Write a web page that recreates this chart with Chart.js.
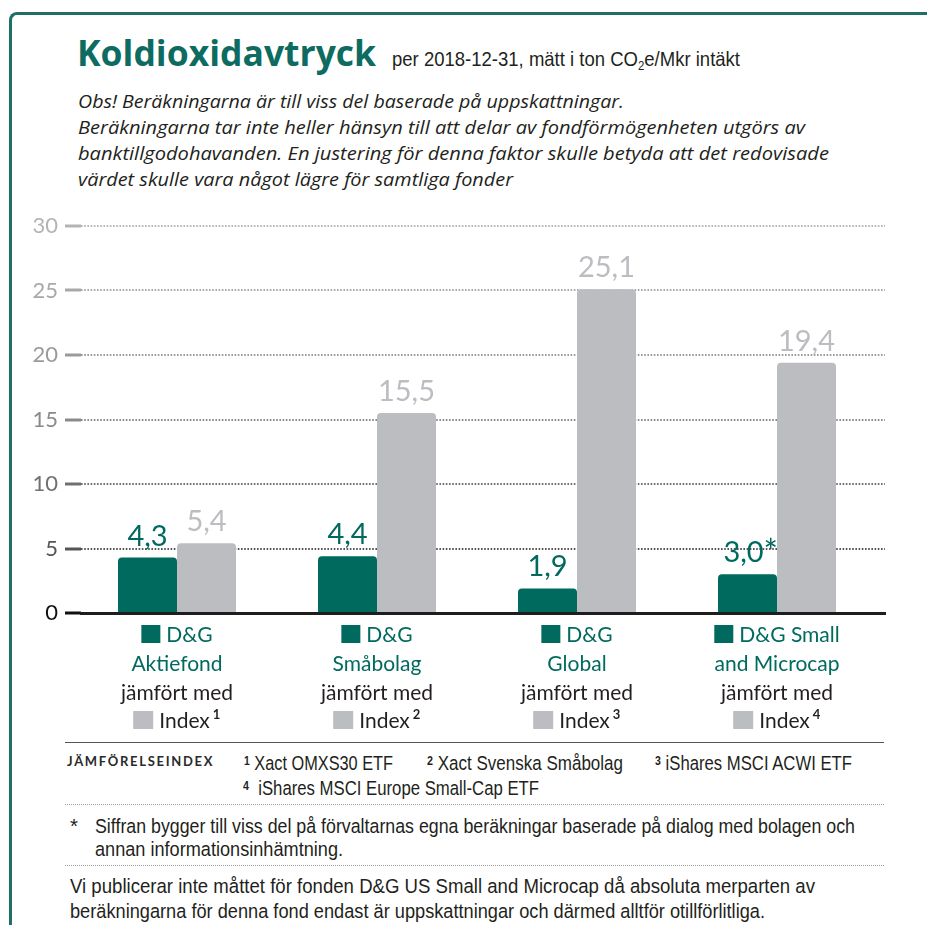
<!DOCTYPE html>
<html lang="sv">
<head>
<meta charset="UTF-8" />
<title>Koldioxidavtryck</title>
<script src="https://cdn.jsdelivr.net/npm/chart.js"></script>
<style>
  body { margin: 0; background: #fff; }
  #page { position: relative; width: 927px; height: 925px; overflow: hidden; color: #231f20; }
  #frame { position: absolute; left: 9px; top: 12px; width: 960px; height: 960px;
    border-left: 3px solid #1f6f67; border-top: 3px solid #1f6f67; border-top-left-radius: 8px; }
  .t { position: absolute; white-space: nowrap; transform-origin: 0 50%; }
  .cond { font-family: "Liberation Sans", Arial, sans-serif; }
  #title { left: 77px; top: 29px; font: 700 35.5px "Open Sans", sans-serif; color: #0d6b61; line-height: 46px; }
  #sub { left: 392px; top: 46px; font-size: 21px; line-height: 26px; }
  #sub sub { font-size: 13px; vertical-align: -4px; }
  .obs { left: 78px; font: italic 18px "Open Sans", sans-serif; line-height: 26px; }
  #chartbox { position: absolute; left: 0; top: 190px; }
  .rule { position: absolute; left: 65px; width: 819px; }
  .fn { font-size: 20.5px; line-height: 24px; }
  #jfi { left: 67px; top: 751px; font: 700 13px "Lato", sans-serif; letter-spacing: 1.7px; line-height: 20px; color: #2a2a2a; }
  .sup { font-size: 13px; font-weight: 700; vertical-align: 5px; }
</style>
</head>
<body>
<div id="page">
  <div id="frame"></div>
  <div class="t" id="title">Koldioxidavtryck</div>
  <div class="t cond" id="sub" data-w="348">per 2018-12-31, mätt i ton CO<sub>2</sub>e/Mkr intäkt</div>
  <div class="t obs" style="top:88px" data-w="546">Obs! Beräkningarna är till viss del baserade på uppskattningar.</div>
  <div class="t obs" style="top:114px" data-w="727">Beräkningarna tar inte heller hänsyn till att delar av fondförmögenheten utgörs av</div>
  <div class="t obs" style="top:140px" data-w="751">banktillgodohavanden. En justering för denna faktor skulle betyda att det redovisade</div>
  <div class="t obs" style="top:166px" data-w="435">värdet skulle vara något lägre för samtliga fonder</div>
  <div id="chartbox"><canvas id="chart" width="927" height="550"></canvas></div>

  <div class="rule" style="top:742px;border-top:1.5px solid #555;"></div>
  <div class="t" id="jfi">JÄMFÖRELSEINDEX</div>
  <div class="t cond fn" style="left:244px;top:749px;" data-w="149"><span class="sup">1</span> Xact OMXS30 ETF</div>
  <div class="t cond fn" style="left:427px;top:749px;" data-w="196"><span class="sup">2</span> Xact Svenska Småbolag</div>
  <div class="t cond fn" style="left:655px;top:749px;" data-w="197"><span class="sup">3</span> iShares MSCI ACWI ETF</div>
  <div class="t cond fn" style="left:243px;top:774px;" data-w="296"><span class="sup">4</span>&nbsp;&nbsp;iShares MSCI Europe Small-Cap ETF</div>
  <div class="rule" style="top:804px;border-top:1.5px dotted #999;"></div>
  <div class="t cond fn" style="left:70px;top:814px;">*</div>
  <div class="t cond fn" style="left:95px;top:814px;" data-w="760">Siffran bygger till viss del på förvaltarnas egna beräkningar baserade på dialog med bolagen och</div>
  <div class="t cond fn" style="left:95px;top:837px;" data-w="248">annan informationsinhämtning.</div>
  <div class="rule" style="top:865px;border-top:1.5px dotted #999;"></div>
  <div class="t cond fn" style="left:70px;top:874px;" data-w="745">Vi publicerar inte måttet för fonden D&amp;G US Small and Microcap då absoluta merparten av</div>
  <div class="t cond fn" style="left:70px;top:899px;" data-w="695">beräkningarna för denna fond endast är uppskattningar och därmed alltför otillförlitliga.</div>
</div>
<script>
  const fundLine1 = ['D&G', 'D&G', 'D&G', 'D&G Small'];
  const fundLine2 = ['Aktiefond', 'Småbolag', 'Global', 'and Microcap'];
  const indexRefs = ['1', '2', '3', '4'];
  const fundValues = [4.3, 4.4, 1.9, 3.0];
  const indexValues = [5.4, 15.5, 25.1, 19.4];
  const fundNotes = ['', '', '', '*'];
  const yTicks = [0, 5, 10, 15, 20, 25, 30];

  const GREEN = '#006a5f', GREY = '#bcbdc0', DARK = '#231f20';
  const tickCol = ['#111111', '#555555', '#707070', '#8a8a8a', '#9a9a9a', '#a8a8a8', '#b4b4b4'];
  const colFor = v => tickCol[yTicks.indexOf(v)] || '#999';

  // squeeze the condensed-looking text lines to the widths in the original
  function fitLines() {
    document.querySelectorAll('[data-w]').forEach(el => {
      el.style.transform = '';
      const w = el.getBoundingClientRect().width;
      el.style.transform = 'scaleX(' + (+el.dataset.w / w) + ')';
    });
  }
  fitLines();
  if (document.fonts) document.fonts.ready.then(fitLines);

  // categories sit on a 200px pitch starting a little left of the grid
  const shiftX = {
    id: 'shiftX',
    afterLayout(chart) {
      const x = chart.scales.x, a = chart.chartArea;
      x._startPixel = a.left - 4;
      x._length = a.width - 4;
    }
  };

  const valueLabels = {
    id: 'valueLabels',
    afterDatasetsDraw(chart) {
      const ctx = chart.ctx;
      ctx.save();
      ctx.textBaseline = 'alphabetic';
      chart.data.datasets.forEach((ds, di) => {
        chart.getDatasetMeta(di).data.forEach((bar, i) => {
          const txt = ds.data[i].toFixed(1).replace('.', ',');
          const note = di === 0 ? fundNotes[i] : '';
          ctx.font = '29px Lato, sans-serif';
          ctx.fillStyle = di === 0 ? GREEN : GREY;
          ctx.textAlign = 'center';
          const y = bar.y - 12;
          const w = ctx.measureText(txt).width;
          const cx = note ? bar.x - 4 : bar.x;
          ctx.fillText(txt, cx, y);
          if (note) {
            ctx.textAlign = 'left';
            ctx.font = '34px Lato, sans-serif';
            ctx.fillText(note, cx + w / 2, y + 2);
          }
        });
      });
      ctx.restore();
    }
  };

  const catLabels = {
    id: 'catLabels',
    afterDraw(chart) {
      const ctx = chart.ctx, xs = chart.scales.x, top = chart.chartArea.bottom;
      ctx.save();
      ctx.font = '21px Lato, sans-serif';
      ctx.textBaseline = 'middle';
      fundLine1.forEach((l1, i) => {
        const cx = xs.getPixelForValue(i);
        const rows = [top + 22, top + 51, top + 80, top + 108];
        const gap = 6;
        ctx.textAlign = 'left';
        let w = ctx.measureText(l1).width;
        let x0 = cx - (19 + gap + w) / 2;
        ctx.fillStyle = GREEN;
        ctx.fillRect(x0, rows[0] - 10, 19, 18);
        ctx.fillText(l1, x0 + 19 + gap, rows[0]);
        ctx.textAlign = 'center';
        ctx.fillText(fundLine2[i], cx, rows[1]);
        ctx.fillStyle = DARK;
        ctx.fillText('jämfört med', cx, rows[2]);
        ctx.textAlign = 'left';
        w = ctx.measureText('Index').width;
        x0 = cx - (20 + gap + w + 3 + 8) / 2;
        ctx.fillStyle = GREY;
        ctx.fillRect(x0, rows[3] - 10, 20, 18);
        ctx.fillStyle = DARK;
        ctx.fillText('Index', x0 + 20 + gap, rows[3]);
        ctx.font = 'bold 13px Lato, sans-serif';
        ctx.fillText(indexRefs[i], x0 + 20 + gap + w + 3, rows[3] - 6);
        ctx.font = '21px Lato, sans-serif';
      });
      ctx.restore();
    }
  };

  new Chart(document.getElementById('chart'), {
    type: 'bar',
    data: {
      labels: fundLine1.map((l, i) => l + ' ' + fundLine2[i]),
      datasets: [
        { label: 'D&G', data: fundValues, backgroundColor: GREEN },
        { label: 'Index', data: indexValues, backgroundColor: GREY }
      ]
    },
    options: {
      responsive: false,
      animation: false,
      events: [],
      layout: { padding: { left: 0, right: 42, top: 36, bottom: 0 } },
      datasets: {
        bar: {
          categoryPercentage: 0.59, barPercentage: 1,
          borderRadius: { topLeft: 4, topRight: 4 }, borderSkipped: 'bottom'
        }
      },
      plugins: { legend: { display: false }, tooltip: { enabled: false } },
      scales: {
        x: {
          afterFit: s => { s.height = 127; },
          ticks: { display: false },
          grid: { display: false },
          border: { display: true, color: '#1e1e1e', width: 3 }
        },
        y: {
          min: 0, max: 30,
          afterFit: s => { s.width = 81; },
          afterBuildTicks: s => { s.ticks = yTicks.map(v => ({ value: v })); },
          ticks: {
            padding: 7,
            font: { family: 'Lato, sans-serif', size: 22 },
            color: c => colFor(c.tick.value)
          },
          grid: {
            color: c => colFor(c.tick.value),
            lineWidth: 2,
            tickLength: 16,
            tickWidth: 3,
            tickColor: c => colFor(c.tick.value),
            tickBorderDash: []
          },
          border: { display: false, dash: [1.6, 1.6] }
        }
      }
    },
    plugins: [shiftX, valueLabels, catLabels]
  });
</script>
</body>
</html>
